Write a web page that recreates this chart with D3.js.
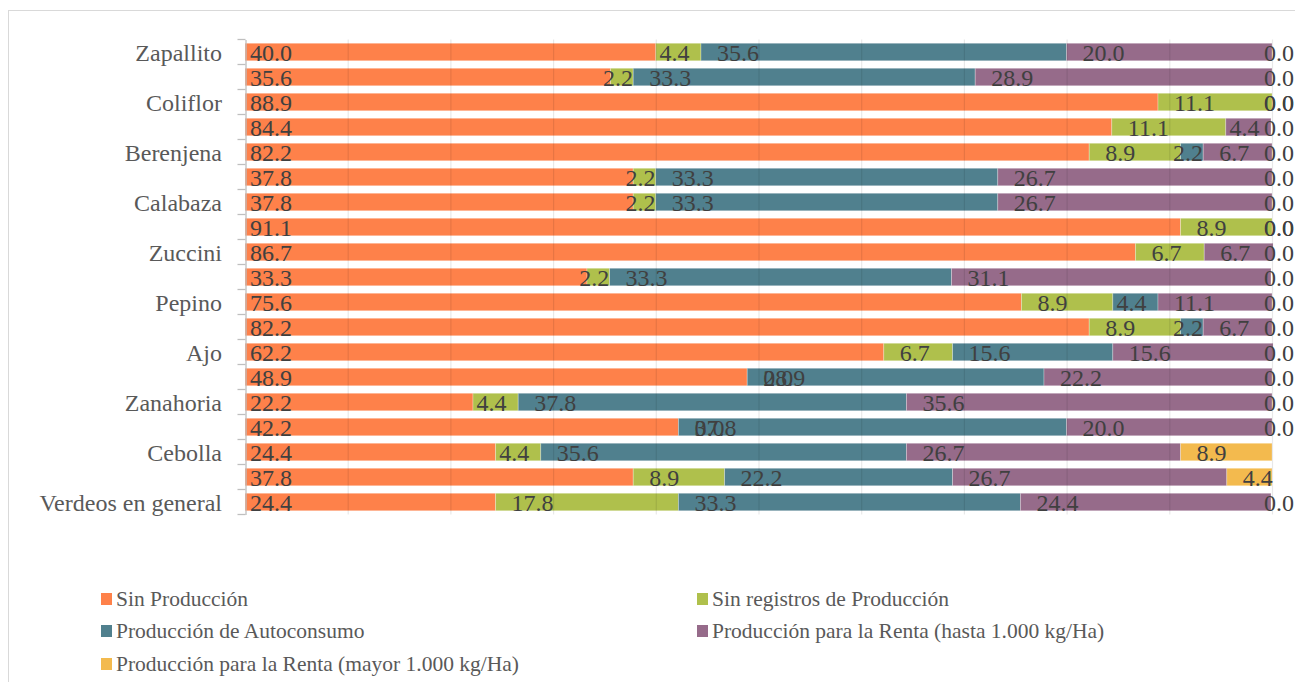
<!DOCTYPE html>
<html lang="es">
  <head>
    <meta charset="UTF-8" />
    <title>Producción por cultivo</title>
    <script src="https://cdn.jsdelivr.net/npm/d3@7/dist/d3.min.js"></script>
    <style>
      body { margin: 0; background: #fff; }
      svg { display: block; font-family: "Liberation Serif", serif; }
    </style>
  </head>
  <body>
    <script>
      // categorías (solo las filas pares tienen etiqueta visible)
      const categories = [
        "Zapallito", "", "Coliflor", "", "Berenjena", "", "Calabaza", "",
        "Zuccini", "", "Pepino", "", "Ajo", "", "Zanahoria", "", "Cebolla", "",
        "Verdeos en general"
      ];
      const seriesNames = [
        "Sin Producción",
        "Sin registros de Producción",
        "Producción de Autoconsumo",
        "Producción para la Renta (hasta 1.000 kg/Ha)",
        "Producción para la Renta (mayor 1.000 kg/Ha)"
      ];
      // null = celda vacía (sin etiqueta)
      const sinProduccion = [40.0, 35.6, 88.9, 84.4, 82.2, 37.8, 37.8, 91.1, 86.7, 33.3, 75.6, 82.2, 62.2, 48.9, 22.2, 42.2, 24.4, 37.8, 24.4];
      const sinRegistros = [4.4, 2.2, 11.1, 11.1, 8.9, 2.2, 2.2, 8.9, 6.7, 2.2, 8.9, 8.9, 6.7, 0.0, 4.4, 0.0, 4.4, 8.9, 17.8];
      const autoconsumo = [35.6, 33.3, null, null, 2.2, 33.3, 33.3, null, null, 33.3, 4.4, 2.2, 15.6, 28.9, 37.8, 37.8, 35.6, 22.2, 33.3];
      const rentaHasta = [20.0, 28.9, 0.0, 4.4, 6.7, 26.7, 26.7, 0.0, 6.7, 31.1, 11.1, 6.7, 15.6, 22.2, 35.6, 20.0, 26.7, 26.7, 24.4];
      const rentaMayor = [0.0, 0.0, 0.0, 0.0, 0.0, 0.0, 0.0, 0.0, 0.0, 0.0, 0.0, 0.0, 0.0, 0.0, 0.0, 0.0, 8.9, 4.4, 0.0];
      const xTicks = [0, 10, 20, 30, 40, 50, 60, 70, 80, 90, 100];

      const colors = ["#fe814a", "#afc04c", "#50808e", "#966b8a", "#f3ba4e"];
      const series = [sinProduccion, sinRegistros, autoconsumo, rentaHasta, rentaMayor];

      const width = 1295;
      const height = 682;
      const svg = d3.select("body").append("svg")
        .attr("width", width)
        .attr("height", height);

      // marco del gráfico
      svg.append("rect")
        .attr("x", 8.5).attr("y", 10.5)
        .attr("width", 1320).attr("height", 700)
        .attr("fill", "#fff")
        .attr("stroke", "#d9d9d9");

      const x = d3.scaleLinear().domain([0, 100]).range([245, 1272]);
      const y = d3.scaleBand()
        .domain(d3.range(categories.length))
        .range([39.5, 514.5])
        .paddingInner(0.3)
        .paddingOuter(0.15);

      // tabla para d3.stack
      const table = categories.map((c, i) => {
        const row = { i };
        series.forEach((s, k) => (row["s" + k] = s[i]));
        return row;
      });
      const stack = d3.stack()
        .keys(series.map((s, k) => "s" + k))
        .value((d, key) => d[key] || 0);
      const stacked = stack(table);

      const layers = svg.append("g").selectAll("g")
        .data(stacked)
        .join("g")
        .attr("fill", (d, k) => colors[k]);

      layers.selectAll("rect")
        .data((d) => d)
        .join("rect")
        .attr("x", (d) => x(d[0]))
        .attr("y", (d) => y(d.data.i))
        .attr("width", (d) => x(d[1]) - x(d[0]))
        .attr("height", y.bandwidth())
        .attr("stroke", "rgba(255,255,255,0.35)")
        .attr("stroke-width", 0.8);

      // líneas de cuadrícula (se ven a través de las barras)
      svg.append("g").selectAll("line")
        .data(xTicks.slice(1))
        .join("line")
        .attr("x1", (d) => x(d) + 0.5)
        .attr("x2", (d) => x(d) + 0.5)
        .attr("y1", 39.5)
        .attr("y2", 514.5)
        .attr("stroke", "rgba(0,0,0,0.09)")
        .attr("stroke-width", 1.2);

      // eje vertical
      const yAxis = d3.axisLeft(y)
        .tickValues([])
        .tickSizeOuter(0);
      const axisG = svg.append("g")
        .attr("transform", "translate(245.5,0)")
        .call(yAxis);
      axisG.select(".domain").attr("stroke", "#bfbfbf").attr("stroke-width", 1.3);
      const bounds = d3.range(categories.length + 1).map((i) => 39.5 + i * y.step());
      axisG.selectAll("line.sep")
        .data(bounds)
        .join("line")
        .attr("class", "sep")
        .attr("x1", -8).attr("x2", 0)
        .attr("y1", (d) => d).attr("y2", (d) => d)
        .attr("stroke", "#bfbfbf")
        .attr("stroke-width", 1.3);

      svg.append("g").selectAll("text")
        .data(categories)
        .join("text")
        .attr("x", 222)
        .attr("y", (d, i) => y(i) + y.bandwidth() / 2 + 9)
        .attr("text-anchor", "end")
        .attr("font-size", 24)
        .attr("fill", "#595959")
        .text((d) => d);

      // etiquetas de datos (posición "base interior")
      const labelG = svg.append("g")
        .attr("font-size", 24)
        .attr("fill", "#404040");
      stacked.forEach((layer, k) => {
        layer.forEach((d) => {
          const v = series[k][d.data.i];
          if (v === null) return;
          const x0 = x(d[0]);
          const w = x(d[1]) - x0;
          const t = labelG.append("text")
            .attr("y", y(d.data.i) + y.bandwidth() / 2 + 9)
            .text(d3.format(".1f")(v));
          const tw = t.node().getComputedTextLength();
          let left = x0 + (k === 0 ? 5 : 16);
          if (w > 0 && k > 0 && k < 4 && left + tw > x0 + w - 3) {
            left = x0 + w / 2 - tw / 2 - 4;
          }
          left = Math.min(left, 1294 - tw);
          t.attr("x", left);
        });
      });

      // leyenda
      const legendPos = [
        [101, 599], [697, 599],
        [101, 631], [697, 631],
        [101, 664]
      ];
      const legend = svg.append("g").selectAll("g")
        .data(seriesNames)
        .join("g")
        .attr("transform", (d, k) => `translate(${legendPos[k][0]},${legendPos[k][1]})`);
      legend.append("rect")
        .attr("x", 0).attr("y", -6)
        .attr("width", 11).attr("height", 12)
        .attr("fill", (d, k) => colors[k]);
      legend.append("text")
        .attr("x", 15)
        .attr("y", 7)
        .attr("font-size", 21.5)
        .attr("fill", "#595959")
        .text((d) => d);
    </script>
  </body>
</html>
